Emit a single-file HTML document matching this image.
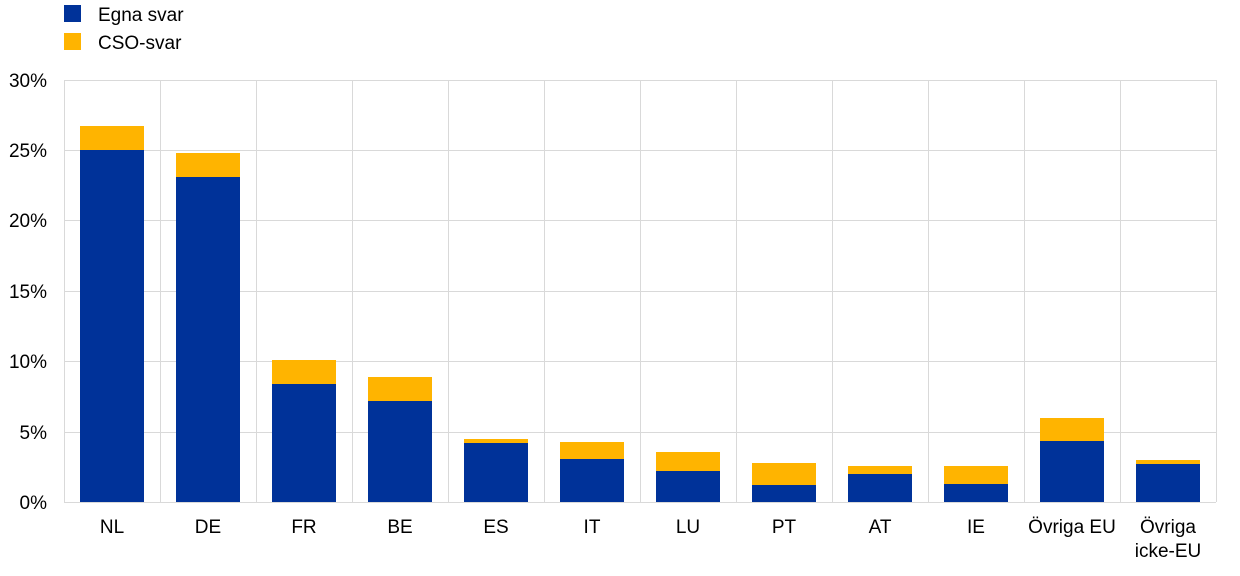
<!DOCTYPE html>
<html><head><meta charset="utf-8"><style>
body{margin:0;background:#fff;}
svg text{font-family:"Liberation Sans",Arial,sans-serif;fill:#000;}
</style></head><body>
<svg width="1240" height="571" xmlns="http://www.w3.org/2000/svg">
<rect x="64" y="5" width="17" height="17" fill="#003299"/>
<text x="98" y="21" font-size="19">Egna svar</text>
<rect x="64" y="33" width="17" height="17" fill="#FFB400"/>
<text x="98" y="49" font-size="19">CSO-svar</text>
<g stroke="#d9d9d9" stroke-width="1">
<line x1="64" y1="80.5" x2="1216" y2="80.5"/>
<line x1="64" y1="150.5" x2="1216" y2="150.5"/>
<line x1="64" y1="220.5" x2="1216" y2="220.5"/>
<line x1="64" y1="291.5" x2="1216" y2="291.5"/>
<line x1="64" y1="361.5" x2="1216" y2="361.5"/>
<line x1="64" y1="432.5" x2="1216" y2="432.5"/>
<line x1="64.5" y1="80" x2="64.5" y2="502"/>
<line x1="160.5" y1="80" x2="160.5" y2="502"/>
<line x1="256.5" y1="80" x2="256.5" y2="502"/>
<line x1="352.5" y1="80" x2="352.5" y2="502"/>
<line x1="448.5" y1="80" x2="448.5" y2="502"/>
<line x1="544.5" y1="80" x2="544.5" y2="502"/>
<line x1="640.5" y1="80" x2="640.5" y2="502"/>
<line x1="736.5" y1="80" x2="736.5" y2="502"/>
<line x1="832.5" y1="80" x2="832.5" y2="502"/>
<line x1="928.5" y1="80" x2="928.5" y2="502"/>
<line x1="1024.5" y1="80" x2="1024.5" y2="502"/>
<line x1="1120.5" y1="80" x2="1120.5" y2="502"/>
<line x1="1216.5" y1="80" x2="1216.5" y2="502"/>
</g>
<g font-size="19" text-anchor="end">
<text x="47" y="87">30%</text><text x="47" y="157">25%</text><text x="47" y="227">20%</text>
<text x="47" y="298">15%</text><text x="47" y="368">10%</text><text x="47" y="439">5%</text><text x="47" y="509">0%</text>
</g>
<g>
<rect x="80" y="126" width="64" height="24" fill="#FFB400"/><rect x="80" y="150" width="64" height="352" fill="#003299"/>
<rect x="176" y="153" width="64" height="24" fill="#FFB400"/><rect x="176" y="177" width="64" height="325" fill="#003299"/>
<rect x="272" y="360" width="64" height="24" fill="#FFB400"/><rect x="272" y="384" width="64" height="118" fill="#003299"/>
<rect x="368" y="377" width="64" height="24" fill="#FFB400"/><rect x="368" y="401" width="64" height="101" fill="#003299"/>
<rect x="464" y="439" width="64" height="4" fill="#FFB400"/><rect x="464" y="443" width="64" height="59" fill="#003299"/>
<rect x="560" y="442" width="64" height="17" fill="#FFB400"/><rect x="560" y="459" width="64" height="43" fill="#003299"/>
<rect x="656" y="452" width="64" height="19" fill="#FFB400"/><rect x="656" y="471" width="64" height="31" fill="#003299"/>
<rect x="752" y="463" width="64" height="22" fill="#FFB400"/><rect x="752" y="485" width="64" height="17" fill="#003299"/>
<rect x="848" y="466" width="64" height="8" fill="#FFB400"/><rect x="848" y="474" width="64" height="28" fill="#003299"/>
<rect x="944" y="466" width="64" height="18" fill="#FFB400"/><rect x="944" y="484" width="64" height="18" fill="#003299"/>
<rect x="1040" y="418" width="64" height="23" fill="#FFB400"/><rect x="1040" y="441" width="64" height="61" fill="#003299"/>
<rect x="1136" y="460" width="64" height="4" fill="#FFB400"/><rect x="1136" y="464" width="64" height="38" fill="#003299"/>
</g>
<line x1="64" y1="502.5" x2="1216" y2="502.5" stroke="#d9d9d9"/>
<g font-size="19" text-anchor="middle">
<text x="112" y="533">NL</text><text x="208" y="533">DE</text><text x="304" y="533">FR</text>
<text x="400" y="533">BE</text><text x="496" y="533">ES</text><text x="592" y="533">IT</text>
<text x="688" y="533">LU</text><text x="784" y="533">PT</text><text x="880" y="533">AT</text>
<text x="976" y="533">IE</text><text x="1072" y="533">Övriga EU</text>
<text x="1168" y="533">Övriga</text><text x="1168" y="557">icke-EU</text>
</g>
</svg>
</body></html>
